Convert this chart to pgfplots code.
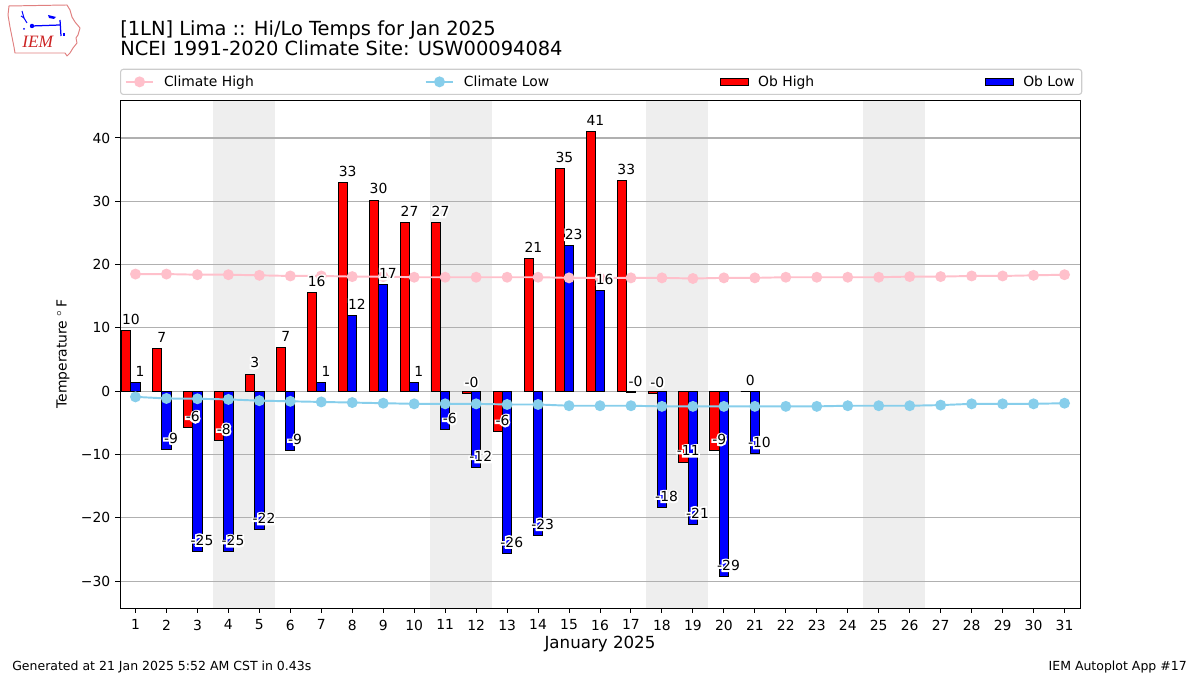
\documentclass[border=0pt]{standalone}
\usepackage{fontspec}
\setmainfont{DejaVu Sans}
\newfontfamily\iemfont{Liberation Serif}
\newfontfamily\halofont[FakeBold=24]{DejaVu Sans}
\usepackage{pgfplots}
\pgfplotsset{compat=1.18}
\usepackage{pgfplotstable}

\definecolor{climhigh}{HTML}{FFC0CB}
\definecolor{climlow}{HTML}{87CEEB}
\definecolor{shade}{HTML}{EEEEEE}
\definecolor{gridc}{HTML}{B0B0B0}
\definecolor{legedge}{HTML}{CCCCCC}
\definecolor{iemred}{HTML}{CC2222}
\definecolor{iemout}{HTML}{E08080}

\pgfplotsset{
  lineleg/.style={legend image code/.code={\draw[sharp corners,mark repeat=2,mark phase=2,##1] plot coordinates {(0pt,0pt) (10pt,0pt) (20pt,0pt)};}},
  barleg/.style={legend image code/.code={\draw[sharp corners,##1] (0pt,-2.5pt) rectangle (20pt,2.5pt);}},
  labstyle/.style={draw=none, forget plot, point meta=explicit symbolic,
    nodes near coords={\pgfplotspointmeta},
    every node near coord/.style={anchor=south, inner xsep=0pt, inner ysep=4.2pt, text depth=0pt, font=\fontsize{10}{12}\selectfont, #1}},
}

\pgfplotstableread{
day high low hlab llab
1 9.6 1.4 10 1
2 6.8 -9.2 7 -9
3 -5.8 -25.3 -6 -25
4 -7.8 -25.4 -8 -25
5 2.7 -21.9 3 -22
6 6.9 -9.4 7 -9
7 15.6 1.4 16 1
8 33.0 12.0 33 12
9 30.2 16.8 30 17
10 26.6 1.3 27 1
11 26.6 -6.1 27 -6
12 -0.4 -12.1 -0 -12
13 -6.4 -25.6 -6 -26
14 21.0 -22.8 21 -23
15 35.2 23.0 35 23
16 41.0 15.9 41 16
17 33.3 -0.2 33 -0
18 -0.4 -18.4 -0 -18
19 -11.2 -21.0 -11 -21
20 -9.4 -29.3 -9 -29
21 0.0 -9.9 0 -10
}\obs

\pgfplotstableread{
day chigh clow
1 18.5 -0.9
2 18.5 -1.15
3 18.4 -1.2
4 18.4 -1.3
5 18.3 -1.5
6 18.2 -1.6
7 18.2 -1.7
8 18.1 -1.8
9 18.1 -1.9
10 18.0 -2.0
11 18.0 -2.0
12 18.0 -2.0
13 18.0 -2.1
14 18.0 -2.1
15 17.9 -2.3
16 17.9 -2.3
17 17.9 -2.3
18 17.9 -2.4
19 17.8 -2.4
20 17.9 -2.4
21 17.9 -2.4
22 18.0 -2.4
23 18.0 -2.4
24 18.0 -2.3
25 18.0 -2.3
26 18.1 -2.3
27 18.1 -2.2
28 18.2 -2.0
29 18.2 -2.0
30 18.3 -2.0
31 18.4 -1.9
}\clim

\begin{document}
\begin{tikzpicture}
\path (0,0) rectangle (864pt,486pt);

\begin{scope}[shift={(0pt,486pt)}, x=0.72pt, y=-0.72pt]
  % logo
  \draw[iemout, line width=0.7pt, line join=round]
    (9,6) -- (67,5) -- (70,10) -- (72,17) -- (75,22) -- (80,28) -- (78,35) -- (76,38)
    -- (77,43) -- (73,48) -- (70,53) -- (67,56) -- (65,53) -- (15,53) -- (14,47)
    -- (12,37) -- (10,27) -- (8,15) -- cycle;
  \draw[blue, line width=0.9pt] (32,26) -- (60,25);
  \draw[blue, line width=0.9pt] (60,20) -- (61,36);
  \fill[blue] (32,26) circle (2.2);
  \fill[blue] (48,15) -- (56,17) -- (54,19) -- (49,18) -- cycle;
  \draw[blue, line width=0.7pt] (22,11) -- (24,18) -- (27,23);
  \draw[blue, line width=0.7pt] (21,16) -- (24,18);
  \fill[blue] (24,29) circle (1.0);
  \fill[blue] (63,33) rectangle (64.5,36);
  \node[anchor=base west, inner sep=0pt, text=iemred] at (22,48)
    {\iemfont\itshape\fontsize{12.5}{14}\selectfont IEM};
  % titles
  \node[anchor=base west, inner sep=0pt] at (120,36)
    {\fontsize{14}{16}\selectfont [1LN] Lima :: Hi/Lo Temps for Jan 2025};
  \node[anchor=base west, inner sep=0pt] at (120,56)
    {\fontsize{14}{16}\selectfont NCEI 1991-2020 Climate Site: USW00094084};
  % footer
  \node[anchor=base west, inner sep=0pt] at (12,671)
    {\fontsize{9}{11}\selectfont Generated at 21 Jan 2025 5:52 AM CST in 0.43s};
  \node[anchor=base east, inner sep=0pt] at (1187,671)
    {\fontsize{9}{11}\selectfont IEM Autoplot App \#17};
\end{scope}

\begin{axis}[
  at={(86.4pt,48.24pt)}, anchor=south west,
  scale only axis, width=691.2pt, height=365.76pt,
  set layers,
  xmin=0.5, xmax=31.5, ymin=-34.25, ymax=46,
  xtick={1,...,31},
  ytick={-30,-20,-10,0,10,20,30,40},
  yticklabels={−30,−20,−10,0,10,20,30,40},
  tick align=outside, tick pos=left,
  major tick length=3.5pt,
  every tick/.style={black, line width=0.7pt},
  axis line style={line width=0.6pt},
  ymajorgrids, grid style={gridc, line width=0.8pt},
  tick label style={font=\fontsize{10}{12}\selectfont},
  /pgf/number format/assume math mode=true,
  xticklabel style={yshift=-1.5pt},
  every axis x label/.style={at={(rel axis cs:0.5,0)}, yshift=-25.9pt, anchor=center, font=\fontsize{12}{14}\selectfont},
  every axis y label/.style={at={(rel axis cs:0,0.5)}, xshift=-41pt, rotate=90, anchor=center, font=\fontsize{10}{12}\selectfont},
  xlabel={January 2025},
  ylabel={Temperature ${}^{\circ}\,$F},
  legend columns=4,
  legend cell align=left,
  legend style={at={(rel axis cs:0,1)}, anchor=south west, yshift=3.6pt,
    draw=legedge, rounded corners=2pt, line width=0.8pt, fill=white,
    font=\fontsize{10}{12}\selectfont,
    inner xsep=3pt, inner ysep=2.5pt,
    /tikz/every even column/.append style={column sep=121pt},
    /tikz/every odd column/.append style={column sep=4.9pt}},
]

% weekend shading
\addplot[fill=shade, draw=none, forget plot, on layer=axis background] coordinates {(3.5,-34.25) (5.5,-34.25) (5.5,46) (3.5,46)} -- cycle;
\addplot[fill=shade, draw=none, forget plot, on layer=axis background] coordinates {(10.5,-34.25) (12.5,-34.25) (12.5,46) (10.5,46)} -- cycle;
\addplot[fill=shade, draw=none, forget plot, on layer=axis background] coordinates {(17.5,-34.25) (19.5,-34.25) (19.5,46) (17.5,46)} -- cycle;
\addplot[fill=shade, draw=none, forget plot, on layer=axis background] coordinates {(24.5,-34.25) (26.5,-34.25) (26.5,46) (24.5,46)} -- cycle;

% bars
\addplot[ybar, bar width=0.3, bar shift=-0.3, fill=red, draw=black, line width=0.7pt, forget plot]
  table[x=day, y=high]{\obs};
\addplot[ybar, bar width=0.3, bar shift=0, fill=blue, draw=black, line width=0.7pt, forget plot]
  table[x=day, y=low]{\obs};

% climate lines
\addplot[climhigh, line width=1.4pt, mark=*, mark size=3.2pt, mark options={draw=climhigh, fill=climhigh}, lineleg]
  table[x=day, y=chigh]{\clim};
\addlegendentry{Climate High}
\addplot[climlow, line width=1.4pt, mark=*, mark size=3.2pt, mark options={draw=climlow, fill=climlow}, lineleg]
  table[x=day, y=clow]{\clim};
\addlegendentry{Climate Low}
\addlegendimage{fill=red, draw=black, line width=0.6pt, barleg}
\addlegendentry{Ob High}
\addlegendimage{fill=blue, draw=black, line width=0.6pt, barleg}
\addlegendentry{Ob Low\hspace{6pt}}

% value labels: white halo, then black text
\addplot[labstyle={text=white, font=\halofont\fontsize{10}{12}\selectfont}]
  table[x expr=\thisrow{day}-0.15, y=high, meta=hlab]{\obs};
\addplot[labstyle={text=white, font=\halofont\fontsize{10}{12}\selectfont}]
  table[x expr=\thisrow{day}+0.15, y=low, meta=llab]{\obs};
\addplot[labstyle={text=black}]
  table[x expr=\thisrow{day}-0.15, y=high, meta=hlab]{\obs};
\addplot[labstyle={text=black}]
  table[x expr=\thisrow{day}+0.15, y=low, meta=llab]{\obs};
\end{axis}
\end{tikzpicture}
\end{document}
